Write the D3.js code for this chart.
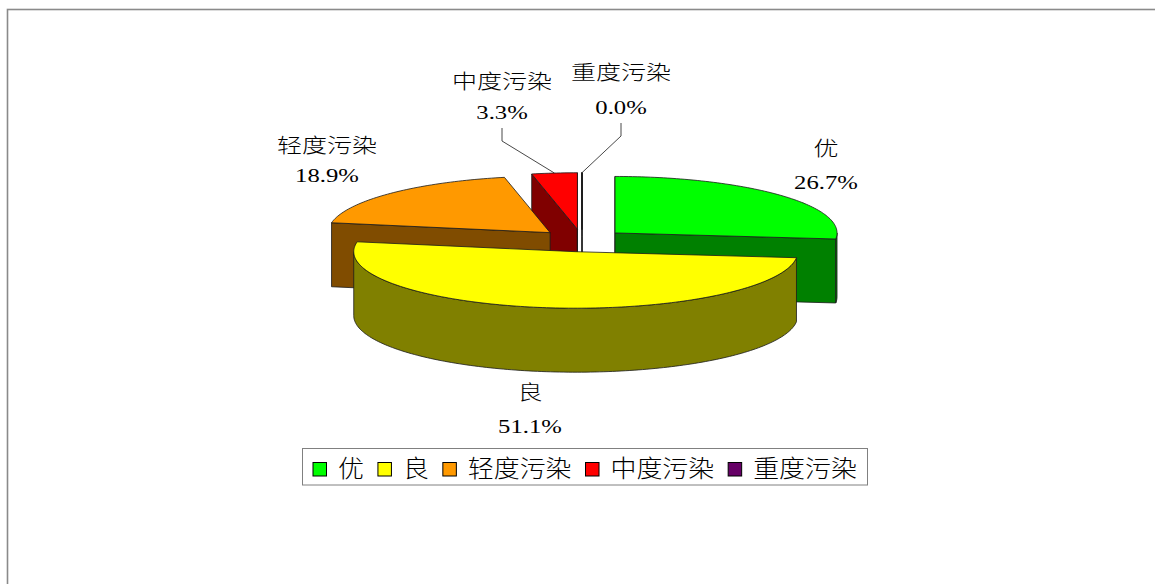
<!DOCTYPE html>
<html><head><meta charset="utf-8">
<script src="https://cdn.jsdelivr.net/npm/d3@7"></script>
<style>
html,body{margin:0;padding:0;background:#fff;}
svg{display:block;}
text{font-family:"Liberation Serif","Noto Sans CJK SC",serif;font-weight:300;fill:#000;}
</style></head>
<body>
<script>
// ---- data ----
const categories = ["优", "良", "轻度污染", "中度污染", "重度污染"];
const values = [26.7, 51.1, 18.9, 3.3, 0.0];
const topColors = ["#00ff00", "#ffff00", "#ff9900", "#ff0000", "#660066"];
const sideColors = ["#008000", "#808000", "#804c00", "#800000", "#330033"];

// ---- layout (style) ----
const W = 1155, H = 584;
const cx = 582, cy = 240.5, rx = 222, ry = 56.5, depth = 64, explodeK = 0.2;
// label anchors: [x, y line1 baseline, y line2 baseline]
const labelLayout = [[826, 155.5, 189], [530, 400, 433], [327, 152.5, 182], [502, 88.5, 119], [621, 80, 114]];
const leaderSlices = [3, 4];

const data = categories.map((c, i) => ({cat: c, value: values[i], i}));
const total = d3.sum(values);
const fmt = d3.format(".1%");
const topColor = d3.scaleOrdinal().domain(categories).range(topColors);
const sideColor = d3.scaleOrdinal().domain(categories).range(sideColors);

const svg = d3.select("body").append("svg").attr("width", W).attr("height", H);

// frame
svg.append("rect").attr("x", 7.5).attr("y", 9.5).attr("width", W + 20).attr("height", H + 20)
  .attr("fill", "#fff").attr("stroke", "#8a8a8a").attr("stroke-width", 1.6);

const pie = d3.pie().sort(null).value(d => d.value).startAngle(0).endAngle(2 * Math.PI);
const arcs = pie(data);

function P(c, a, dz) { return [c[0] + rx * Math.sin(a), c[1] - ry * Math.cos(a) + (dz || 0)]; }
function arcPts(c, a0, a1, dz) {
  const n = Math.max(2, Math.ceil(Math.abs(a1 - a0) / 0.02));
  return d3.range(n + 1).map(k => P(c, a0 + (a1 - a0) * k / n, dz));
}
const line = d3.line();
const closed = pts => line(pts) + "Z";

const slices = arcs.map(d => {
  const mid = (d.startAngle + d.endAngle) / 2;
  const c = [cx + explodeK * rx * Math.sin(mid), cy - explodeK * ry * Math.cos(mid)];
  return {d, mid, c};
});

const order = slices.slice().sort((a, b) => (-Math.cos(a.mid)) - (-Math.cos(b.mid)));
const gPie = svg.append("g");
const strokeCol = "#1a1a1a", sw = 0.8;

order.forEach(s => {
  const {d, c} = s;
  const a0 = d.startAngle, a1 = d.endAngle;
  const g = gPie.append("g");
  const cat = d.data.cat;
  const radial = a => closed([c, P(c, a), P(c, a, depth), [c[0], c[1] + depth]]);
  if (Math.sin(a0) <= 1e-6) g.append("path").attr("d", radial(a0)).attr("fill", sideColor(cat)).attr("stroke", strokeCol).attr("stroke-width", sw).attr("stroke-linejoin", "round");
  if (Math.sin(a1) >= -1e-6) g.append("path").attr("d", radial(a1)).attr("fill", sideColor(cat)).attr("stroke", strokeCol).attr("stroke-width", sw).attr("stroke-linejoin", "round");
  const b0 = Math.max(a0, Math.PI / 2), b1 = Math.min(a1, 3 * Math.PI / 2);
  if (b1 > b0) {
    const pts = arcPts(c, b0, b1, 0).concat(arcPts(c, b1, b0, depth));
    g.append("path").attr("d", closed(pts)).attr("fill", sideColor(cat)).attr("stroke", strokeCol).attr("stroke-width", sw).attr("stroke-linejoin", "round");
  }
  const top = [c].concat(arcPts(c, a0, a1, 0));
  g.append("path").attr("d", closed(top)).attr("fill", topColor(cat)).attr("stroke", strokeCol).attr("stroke-width", a1 - a0 < 1e-6 ? 1.6 : sw).attr("stroke-linejoin", "round");
});

// leader lines
leaderSlices.forEach(i => {
  const s = slices[i];
  const L = labelLayout[i];
  const rim = P(s.c, s.mid);
  svg.append("path").attr("d", line([[L[0], L[2] + 9], [L[0], L[2] + 22], rim]))
    .attr("fill", "none").attr("stroke", "#333").attr("stroke-width", 0.9);
});

// data labels
const gLab = svg.append("g");
slices.forEach((s, i) => {
  const L = labelLayout[i];
  gLab.append("text").attr("transform", `translate(${L[0]},${L[1]}) scale(1.25,1)`)
    .attr("text-anchor", "middle").attr("font-size", 20).text(s.d.data.cat);
  gLab.append("text").attr("transform", `translate(${L[0]},${L[2]}) scale(1.3,1)`)
    .attr("text-anchor", "middle").attr("font-size", 19).text(fmt(s.d.data.value / total));
});

// legend
const leg = svg.append("g");
const lgX = 302.5, lgY = 448.5, lgW = 565, lgH = 36.5;
leg.append("rect").attr("x", lgX).attr("y", lgY).attr("width", lgW).attr("height", lgH)
  .attr("fill", "#fff").attr("stroke", "#808080").attr("stroke-width", 1);
let xPos = 313;
categories.forEach((c, i) => {
  leg.append("rect").attr("x", xPos).attr("y", 462.5).attr("width", 13.5).attr("height", 13.5)
    .attr("fill", topColor(c)).attr("stroke", "#000").attr("stroke-width", 1);
  const tx = xPos + 25;
  const t = leg.append("text").attr("transform", `translate(${tx},476.5) scale(1.08,1)`)
    .attr("font-size", 24).text(c);
  const w = t.node().getComputedTextLength() * 1.08;
  xPos = tx + w + 14;
});
</script>
</body></html>
